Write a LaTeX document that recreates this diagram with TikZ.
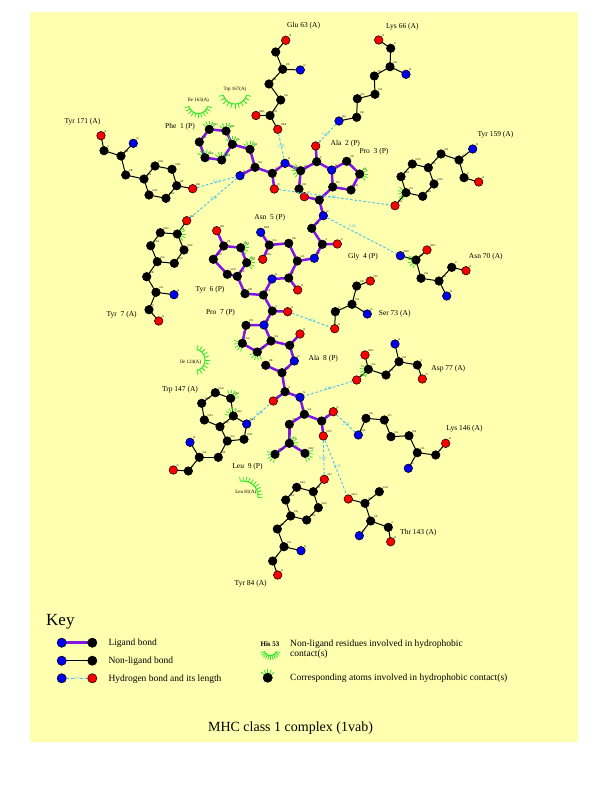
\documentclass[tikz,border=0pt]{standalone}
\usepackage{fontspec}
\setmainfont{Liberation Serif}
\newfontfamily\lsans{Liberation Sans}
\usetikzlibrary{calc}
\pgfdeclarelayer{back}
\pgfdeclarelayer{bonds}
\pgfsetlayers{back,bonds,main}
\definecolor{bgy}{RGB}{255,255,176}
\definecolor{ligc}{RGB}{130,20,230}
\definecolor{hbc}{RGB}{70,190,245}
\definecolor{hyc}{RGB}{40,232,40}
\definecolor{aK}{RGB}{0,0,0}
\definecolor{aN}{RGB}{0,0,235}
\definecolor{aO}{RGB}{250,0,0}
\tikzset{
  atom/.style={circle,draw=black,line width=0.5pt,inner sep=0pt,minimum size=8.6pt,fill=#1},
  keyatom/.style={circle,draw=black,line width=0.5pt,inner sep=0pt,minimum size=9.3pt,fill=#1},
  lig/.style={ligc,line width=2.5pt},
  nlig/.style={black,line width=1pt},
  hb/.style={hbc,line width=0.9pt,dash pattern=on 2.5pt off 2pt},
  hbl/.style={text=hbc,font=\lsans\fontsize{3.6}{4}\selectfont,inner sep=0.3pt},
  reslab/.style={font=\fontsize{7.5}{9}\selectfont,inner sep=0pt},
  alab/.style={font=\lsans\fontsize{2.6}{3}\selectfont,inner sep=0pt},
  hylab/.style={font=\fontsize{5}{6}\selectfont,inner sep=0pt},
  keytxt/.style={font=\fontsize{9.5}{11}\selectfont,inner sep=0pt,anchor=base west},
  spk/.style={hyc,line width=0.75pt},
}
% hydrophobic residue arc: cx, cy, r, start, end
\newcommand\hyres[5]{%
  \draw[hyc,line width=1pt] plot[domain=#4:#5,samples=25] ({#1+#3*cos(\x)},{#2+#3*sin(\x)});
  \foreach \k in {0,...,10}{%
    \pgfmathsetmacro\myang{#4+(#5-#4)*\k/10}%
    \pgfmathsetmacro\myrr{#3+4.5}%
    \draw[spk] ({#1+#3*cos(\myang)},{#2+#3*sin(\myang)}) -- ({#1+\myrr*cos(\myang)},{#2+\myrr*sin(\myang)});}}
% hydrophobic atom spokes: node, direction
\newcommand\hyatom[2]{%
  \foreach \k in {-50,-25,0,25,50}{%
    \pgfmathsetmacro\myang{#2+\k}%
    \draw[spk] ($(#1.center)+(\myang:4.9)$) -- ($(#1.center)+(\myang:8.5)$);}}

\def\ligatoms{%
p1n/240/175.7/aN/N, p1ca/255/167.3/aK/CA, p1cb/250/149.3/aK/CB, p1cg/232.3/144.3/aK/CG,
p1cd1/226/131/aK/CD1, p1ce1/209.3/129.3/aK/CE1, p1cz/199.3/142/aK/CZ, p1ce2/205/157.7/aK/CE2,
p1cd2/221.7/160/aK/CD2, p1c/272.3/173.3/aK/C, p1o/274.3/189/aO/O,
a2n/285/163.3/aN/N, a2ca/300.7/170.7/aK/CA, a2cb/299/189/aK/CB, a2c/316.7/161.7/aK/C, a2o/315.7/146/aO/O,
p3n/331.7/170/aN/N, p3cd/346.7/161.3/aK/CD, p3cg/359.7/174/aK/CG, p3cb/351/190/aK/CB,
p3ca/332.7/187/aK/CA, p3c/319.3/200/aK/C, p3o/304.3/196.7/aO/O,
g4n/323.3/215.7/aN/N, g4ca/311.7/228.3/aK/CA, g4c/322.3/244.3/aK/C, g4o/337.3/244/aO/O,
n5n/314.3/258.3/aN/N, n5ca/297.3/261/aK/CA, n5cb/288.7/243.3/aK/CB, n5cg/269.3/245/aK/CG,
n5od1/262.7/259.3/aO/OD1, n5nd2/260.7/232.3/aN/ND2, n5c/288.7/278/aK/C, n5o/297.7/290/aO/O,
y6n/272/279/aN/N, y6ca/263.3/295/aK/CA, y6cb/245/293.7/aK/CB, y6cg/237.3/276.3/aK/CG,
y6cd1/246.7/262.7/aK/CD1, y6ce1/240.7/247.7/aK/CE1, y6cz/223.7/246/aK/CZ, y6oh/216.7/230.7/aO/OH,
y6ce2/213.3/259.3/aK/CE2, y6cd2/227.3/274.3/aK/CD2, y6c/272.3/311/aK/C, y6o/287.7/311.7/aO/O,
p7n/264/325/aN/N, p7cd/246/325.3/aK/CD, p7cg/242.3/343.3/aK/CG, p7cb/257.3/352/aK/CB,
p7ca/271/341/aK/CA, p7c/289.7/345.3/aK/C, p7o/300/334/aO/O,
a8n/294.3/361/aN/N, a8ca/282/372.7/aK/CA, a8cb/265.7/365.3/aK/CB, a8c/285/391.7/aK/C, a8o/273.3/401/aO/O,
l9n/300/397.3/aN/N, l9ca/304.3/414.3/aK/CA, l9cb/289.3/424.3/aK/CB, l9cg/289.3/443.3/aK/CG,
l9cd1/275/454.3/aK/CD1, l9cd2/305/453.3/aK/CD2, l9c/321.7/421/aK/C, l9o/333.3/411.7/aO/O, l9ox/323.3/436/aO/OXT}

\def\resatoms{%
e63o/285.7/40.3/aO/O, e63c/275.7/52/aK/C, e63ca/282.7/69.3/aK/CA, e63n/300.3/70/aN/N,
e63cb/269/84/aK/CB, e63cg/280.7/100/aK/CG, e63cd/270/115.5/aK/CD, e63oe1/256/115.5/aO/OE1, e63oe2/277.7/129.3/aO/OE2,
k66o/378.7/40/aO/O, k66c/390.7/48.3/aK/C, k66ca/390/66.7/aK/CA, k66n/406/74.3/aN/N,
k66cb/374.3/76/aK/CB, k66cg/375/94.3/aK/CG, k66cd/357.3/98.7/aK/CD, k66ce/356.7/117.3/aK/CE, k66nz/339/121/aN/NZ,
t171o/101/135.7/aO/O, t171c/104/150.7/aK/C, t171ca/121/156/aK/CA, t171n/133.3/143.3/aN/N,
t171cb/125.7/175/aK/CB, t171cg/144/179/aK/CG, t171cd1/155/166/aK/CD1, t171ce1/172/169.3/aK/CE1,
t171cz/176.7/185.7/aK/CZ, t171oh/192.7/188.7/aO/OH, t171ce2/166/198.3/aK/CE2, t171cd2/149/195/aK/CD2,
t159oh/395/205.7/aO/OH, t159cz/406/192.7/aK/CZ, t159ce1/401/176.7/aK/CE1, t159cd1/412.3/164/aK/CD1,
t159cg/428.3/167.7/aK/CG, t159cd2/434/184/aK/CD2, t159ce2/422.7/196.3/aK/CE2, t159cb/441/154/aK/CB,
t159ca/459/160/aK/CA, t159n/472.7/149/aN/N, t159c/464/177.7/aK/C, t159o/478.7/182/aO/O,
n70nd2/400.3/255.7/aN/ND2, n70cg/416/260/aK/CG, n70od1/427/250/aO/OD1, n70cb/421/278.3/aK/CB,
n70ca/439/281/aK/CA, n70c/451.7/267.3/aK/C, n70o/466/270.7/aO/O, n70n/446.7/296/aN/N,
t7oh/186.7/220.7/aO/OH, t7cz/177.3/234/aK/CZ, t7ce1/160.3/232.7/aK/CE1, t7cd1/150.7/245.7/aK/CD1,
t7cg/157.3/261.7/aK/CG, t7cd2/174.3/263.3/aK/CD2, t7ce2/184/250/aK/CE2, t7cb/146.7/276.7/aK/CB,
t7ca/156/292.3/aK/CA, t7n/174/294.7/aN/N, t7c/149/309.7/aK/C, t7o/158.7/321/aO/O,
s73og/370.3/281/aO/OG, s73cb/356.7/286/aK/CB, s73ca/352/304.3/aK/CA, s73n/367.3/314/aN/N,
s73c/335.3/311.7/aK/C, s73o/334.7/328.7/aO/O,
d77n/395/344/aN/N, d77ca/399/361.7/aK/CA, d77c/417.3/365/aK/C, d77o/422.3/379/aO/O,
d77cb/386/375/aK/CB, d77cg/368.3/369.3/aK/CG, d77od1/365/355/aO/OD1, d77od2/356.7/380/aO/OD2,
w147ch2/215.3/392.7/aK/CH2, w147cz2/230.7/398.3/aK/CZ2, w147ce2/233.3/416/aK/CE2, w147cd2/220/426.7/aK/CD2,
w147ce3/204.3/420/aK/CE3, w147cz3/201.7/403.3/aK/CZ3, w147ne1/246.7/424/aN/NE1, w147cd1/244/439.3/aK/CD1,
w147cg/227.3/441/aK/CG, w147cb/218.3/457.3/aK/CB, w147ca/199.3/457.3/aK/CA, w147n/190/442.3/aN/N,
w147c/188.3/471/aK/C, w147o/173.3/470/aO/O,
k146nz/358.3/435/aN/NZ, k146ce/366/418.3/aK/CE, k146cd/384.3/420/aK/CD, k146cg/391/436.7/aK/CG,
k146cb/409/435.7/aK/CB, k146ca/417.3/452.7/aK/CA, k146c/435.7/455/aK/C, k146o/445.7/443.3/aO/O, k146n/408.3/468.3/aN/N,
t84oh/324.3/479.3/aO/OH, t84cz/313.3/491.7/aK/CZ, t84ce1/296.7/487.3/aK/CE1, t84cd1/285.7/500/aK/CD1,
t84cg/290.7/516/aK/CG, t84cd2/306.7/520/aK/CD2, t84ce2/318.3/507.7/aK/CE2, t84cb/277.3/529/aK/CB,
t84ca/284/546.7/aK/CA, t84n/301/550.7/aN/N, t84c/272.7/561/aK/C, t84o/277.7/575/aO/O,
t143og/348.3/499/aO/OG1, t143cb/365/503.3/aK/CB, t143cg/379.3/491.7/aK/CG2, t143ca/370.7/521/aK/CA,
t143n/359.3/535.7/aN/N, t143c/388.3/527.3/aK/C, t143o/390.7/541.7/aO/O}

\def\ligbonds{p1ce1/p1cd1, p1cd1/p1cg, p1cg/p1cd2, p1cd2/p1ce2, p1ce2/p1cz, p1cz/p1ce1, p1cg/p1cb,
p1cb/p1ca, p1ca/p1n, p1ca/p1c, p1c/p1o, p1c/a2n, a2n/a2ca, a2ca/a2cb, a2ca/a2c, a2c/a2o, a2c/p3n,
p3n/p3cd, p3cd/p3cg, p3cg/p3cb, p3cb/p3ca, p3ca/p3n, p3ca/p3c, p3c/p3o, p3c/g4n, g4n/g4ca, g4ca/g4c,
g4c/g4o, g4c/n5n, n5n/n5ca, n5ca/n5cb, n5cb/n5cg, n5cg/n5od1, n5cg/n5nd2, n5ca/n5c, n5c/n5o, n5c/y6n,
y6n/y6ca, y6ca/y6cb, y6cb/y6cg, y6cg/y6cd1, y6cd1/y6ce1, y6ce1/y6cz, y6cz/y6ce2, y6ce2/y6cd2, y6cd2/y6cg,
y6cz/y6oh, y6ca/y6c, y6c/y6o, y6c/p7n, p7n/p7cd, p7cd/p7cg, p7cg/p7cb, p7cb/p7ca, p7ca/p7n, p7ca/p7c,
p7c/p7o, p7c/a8n, a8n/a8ca, a8ca/a8cb, a8ca/a8c, a8c/a8o, a8c/l9n, l9n/l9ca, l9ca/l9cb, l9cb/l9cg,
l9cg/l9cd1, l9cg/l9cd2, l9ca/l9c, l9c/l9o, l9c/l9ox}

\def\resbonds{e63o/e63c, e63c/e63ca, e63ca/e63n, e63ca/e63cb, e63cb/e63cg, e63cg/e63cd, e63cd/e63oe1, e63cd/e63oe2,
k66o/k66c, k66c/k66ca, k66ca/k66n, k66ca/k66cb, k66cb/k66cg, k66cg/k66cd, k66cd/k66ce, k66ce/k66nz,
t171o/t171c, t171c/t171ca, t171ca/t171n, t171ca/t171cb, t171cb/t171cg, t171cg/t171cd1, t171cd1/t171ce1,
t171ce1/t171cz, t171cz/t171ce2, t171ce2/t171cd2, t171cd2/t171cg, t171cz/t171oh,
t159oh/t159cz, t159cz/t159ce1, t159ce1/t159cd1, t159cd1/t159cg, t159cg/t159cd2, t159cd2/t159ce2, t159ce2/t159cz,
t159cg/t159cb, t159cb/t159ca, t159ca/t159n, t159ca/t159c, t159c/t159o,
n70nd2/n70cg, n70cg/n70od1, n70cg/n70cb, n70cb/n70ca, n70ca/n70c, n70c/n70o, n70ca/n70n,
t7oh/t7cz, t7cz/t7ce1, t7ce1/t7cd1, t7cd1/t7cg, t7cg/t7cd2, t7cd2/t7ce2, t7ce2/t7cz, t7cg/t7cb, t7cb/t7ca,
t7ca/t7n, t7ca/t7c, t7c/t7o,
s73og/s73cb, s73cb/s73ca, s73ca/s73n, s73ca/s73c, s73c/s73o,
d77n/d77ca, d77ca/d77c, d77c/d77o, d77ca/d77cb, d77cb/d77cg, d77cg/d77od1, d77cg/d77od2,
w147ch2/w147cz2, w147cz2/w147ce2, w147ce2/w147cd2, w147cd2/w147ce3, w147ce3/w147cz3, w147cz3/w147ch2,
w147ce2/w147ne1, w147ne1/w147cd1, w147cd1/w147cg, w147cg/w147cd2, w147cg/w147cb, w147cb/w147ca,
w147ca/w147n, w147ca/w147c, w147c/w147o,
k146nz/k146ce, k146ce/k146cd, k146cd/k146cg, k146cg/k146cb, k146cb/k146ca, k146ca/k146c, k146c/k146o, k146ca/k146n,
t84oh/t84cz, t84cz/t84ce1, t84ce1/t84cd1, t84cd1/t84cg, t84cg/t84cd2, t84cd2/t84ce2, t84ce2/t84cz,
t84cg/t84cb, t84cb/t84ca, t84ca/t84n, t84ca/t84c, t84c/t84o,
t143og/t143cb, t143cb/t143cg, t143cb/t143ca, t143ca/t143n, t143ca/t143c, t143c/t143o}

\begin{document}
\begin{tikzpicture}[x=1pt,y=-1pt]
\useasboundingbox (0,0) rectangle (612,792);
\begin{pgfonlayer}{back}
  \fill[white] (0,0) rectangle (612,792);
  \fill[bgy] (30,12) rectangle (578,742);
\end{pgfonlayer}

% atoms
\foreach \nm/\x/\y/\ty/\lb in \ligatoms {
  \node[atom=\ty] (\nm) at (\x,\y) {};
  \node[alab,anchor=south west] (\nm-l) at (\nm.north east) {\lb};
}
\foreach \nm/\x/\y/\ty/\lb in \resatoms {
  \node[atom=\ty] (\nm) at (\x,\y) {};
  \node[alab,anchor=south west] (\nm-l) at (\nm.north east) {\lb};
}

% bonds
\begin{pgfonlayer}{bonds}
  \foreach \a/\b in \ligbonds {\draw[lig] (\a.center) -- (\b.center);}
  \foreach \a/\b in \resbonds {\draw[nlig] (\a.center) -- (\b.center);}
\end{pgfonlayer}

% hydrogen bonds
\foreach \a/\b/\lx/\ly/\dd [count=\i] in {e63oe2/a2n/281/146/2.88, k66nz/a2o/325/134.3/3.03,
  t171oh/p1n/216.7/181.7/3.14, t7oh/p1n/213.3/198.3/3.08, p1o/t159oh/332.7/197.3/3.05,
  g4n/n70nd2/352.3/226.7/3.00, y6o/s73o/311/320.7/3.13, d77od2/l9n/328.3/388.3/2.93,
  w147ne1/a8o/259.3/413.3/2.95, k146nz/l9o/346/424/2.90, l9ox/t84oh/322.3/458.3/3.00,
  l9ox/t143og/337/466.7/2.78} {
  \draw[hb] (\a) -- (\b);
  \node[hbl] (hbl\i) at (\lx,\ly) {\dd};
}

% hydrophobic contact atoms
\foreach \nm/\dir in {p1ce1/-90, p1cd1/-90, p1cg/-90, p1cb/-90, p1ce2/-100, p1cd2/-90, a2ca/180,
  p3cg/0, t159cz/170, n70cg/160, d77cg/160, t7cz/0, y6ce1/0, y6cd1/0, p7cg/150, p7cb/110,
  w147cz2/-60, w147ce2/-120, l9cg/-30, l9cd1/150, l9cd2/30} {
  \hyatom{\nm}{\dir}
}

% hydrophobic residues
\hyres{235}{92}{12}{15}{165}
\node[hylab] (hy1) at (235,89.5) {Trp 167(A)};
\hyres{198.3}{104}{9.5}{15}{165}
\node[hylab] (hy2) at (198.3,100) {Ile 163(A)};
\hyres{194}{360}{11}{-75}{75}
\node[hylab] (hy3) at (190.5,362.3) {Ile 124(A)};
\hyres{243}{496}{15}{-100}{5}
\node[hylab] (hy4) at (245.8,492.3) {Leu 81(A)};

% residue labels
\foreach \x/\y/\tx [count=\i] in {303.7/25.7/{Glu 63 (A)}, 402.3/26.7/{Lys 66 (A)},
  82.5/122/{Tyr 171 (A)}, 180/126.7/{Phe~~1 (P)}, 345.3/143.3/{Ala~~2 (P)}, 374/151.7/{Pro~~3 (P)},
  495.5/135/{Tyr 159 (A)}, 269.7/217.3/{Asn~~5 (P)}, 363/256.7/{Gly~~4 (P)}, 485.8/256.7/{Asn 70 (A)},
  210/290/{Tyr~~6 (P)}, 121.7/314.7/{Tyr~~7 (A)}, 220.5/312.7/{Pro~~7 (P)}, 394.7/313.3/{Ser 73 (A)},
  323.3/359/{Ala~~8 (P)}, 448.3/368.3/{Asp 77 (A)}, 180/390/{Trp 147 (A)}, 464.5/428.7/{Lys 146 (A)},
  247.5/466.7/{Leu~~9 (P)}, 418.3/532.7/{Thr 143 (A)}, 250.7/584/{Tyr 84 (A)}} {
  \node[reslab] (rl\i) at (\x,\y) {\tx};
}

% key
\node[font=\fontsize{17}{20}\selectfont,inner sep=0pt,anchor=base west] (keyt) at (46,625) {Key};
\node[keyatom=aN] (kb1) at (61.7,642.7) {};
\node[keyatom=aK] (kk1) at (92.3,642.7) {};
\node[keyatom=aN] (kb2) at (61.7,660.7) {};
\node[keyatom=aK] (kk2) at (92.3,660.7) {};
\node[keyatom=aN] (kb3) at (61.7,678.3) {};
\node[keyatom=aO] (kr3) at (92.3,678.3) {};
\begin{pgfonlayer}{bonds}
  \draw[lig] (kb1.center) -- (kk1.center);
  \draw[nlig] (kb2.center) -- (kk2.center);
\end{pgfonlayer}
\draw[hb] (kb3) -- (kr3);
\node[hbl,fill=bgy] (khl) at (77,678) {3.0};
\node[keytxt] (kt1) at (108.3,645.5) {Ligand bond};
\node[keytxt] (kt2) at (108.3,663.3) {Non-ligand bond};
\node[keytxt] (kt3) at (108.3,681) {Hydrogen bond and its length};
\node[font=\bfseries\fontsize{7}{8}\selectfont,inner sep=0pt,anchor=base] (khis) at (270,646.7) {His 53};
\hyres{270.5}{649.5}{6}{20}{160}
\node[keytxt] (kt4) at (290,646.7) {Non-ligand residues involved in hydrophobic};
\node[keytxt] (kt5) at (290,656.7) {contact(s)};
\node[keyatom=aK] (kk4) at (267.7,677.7) {};
\hyatom{kk4}{-90}
\node[keytxt] (kt6) at (290,680.3) {Corresponding atoms involved in hydrophobic contact(s)};

% title
\node[font=\fontsize{14}{16}\selectfont,inner sep=0pt,anchor=base] (title) at (290.5,731.7) {MHC class 1 complex (1vab)};
\end{tikzpicture}
\end{document}
